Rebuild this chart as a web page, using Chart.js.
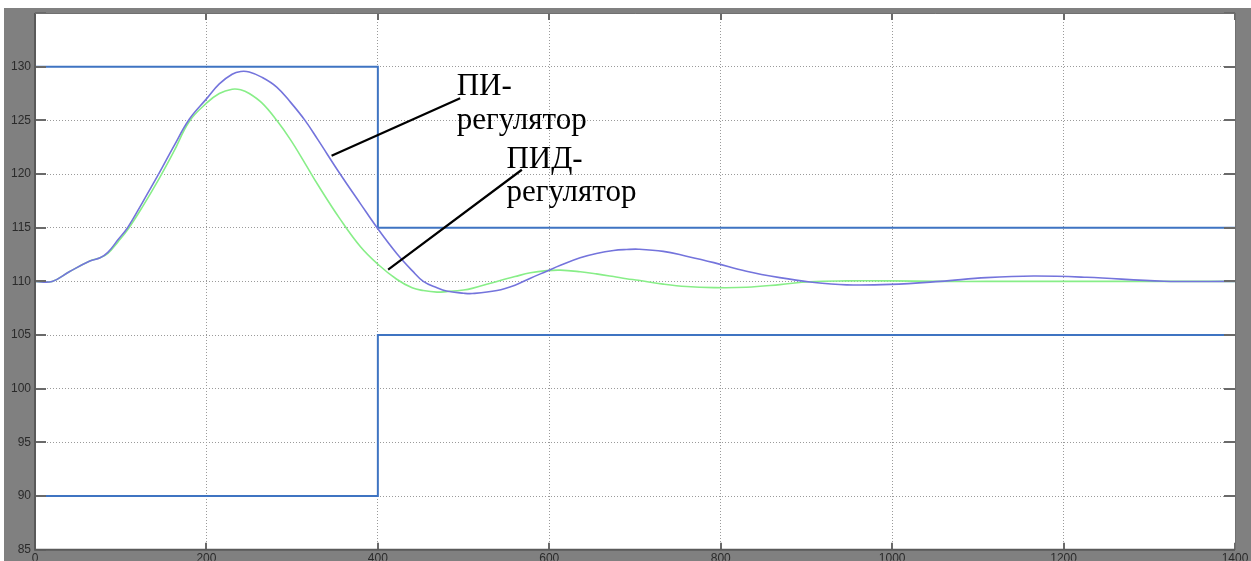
<!DOCTYPE html>
<html>
<head>
<meta charset="utf-8">
<script src="https://cdn.jsdelivr.net/npm/chart.js@4/dist/chart.umd.min.js"></script>
<style>
  html, body { margin: 0; padding: 0; background: #ffffff; }
  #wrap { width: 1251px; height: 561px; }
</style>
</head>
<body>
<div id="wrap"><canvas id="c" width="1251" height="561"></canvas></div>
<script>
// Time axis (s) shared by both controller responses
const timeSteps = [0, 20, 40, 64, 76, 85, 97, 108, 125, 145, 162, 180, 200, 215, 230, 240, 250, 265, 282, 298, 315, 330, 356, 380, 400, 422, 440, 453, 469, 480, 500, 510, 539, 560, 578, 597, 613, 636, 655, 675, 690, 704, 733, 760, 792, 830, 869, 904, 947, 998, 1056, 1110, 1165, 1227, 1317, 1400];

// PI controller response
const piValues = [110, 110, 110.9, 111.9, 112.2, 112.7, 113.9, 115.0, 117.3, 120.1, 122.6, 125.1, 127.0, 128.4, 129.3, 129.55, 129.5, 129.0, 128.1, 126.7, 125.0, 123.2, 120.0, 117.2, 114.9, 112.6, 111.0, 110.0, 109.4, 109.1, 108.9, 108.87, 109.15, 109.65, 110.3, 110.95, 111.5, 112.2, 112.6, 112.88, 112.97, 113.0, 112.8, 112.35, 111.75, 110.95, 110.35, 109.95, 109.68, 109.72, 110.0, 110.35, 110.5, 110.38, 110.02, 110.0];

// PID controller response
const pidValues = [110, 110, 110.9, 111.9, 112.2, 112.6, 113.7, 114.8, 116.9, 119.6, 122.1, 124.9, 126.6, 127.5, 127.9, 127.85, 127.5, 126.6, 125.0, 123.2, 121.0, 119.0, 115.8, 113.2, 111.6, 110.2, 109.4, 109.15, 109.0, 109.05, 109.2, 109.35, 110.0, 110.45, 110.8, 111.0, 111.05, 110.9, 110.7, 110.45, 110.25, 110.1, 109.75, 109.52, 109.42, 109.45, 109.7, 109.97, 110.05, 110.05, 110.0, 110.0, 110.0, 110.0, 110.0, 110.0];

// Tolerance band limits
const bandTime = [0, 400, 400, 1400];
const bandUpper = [130, 130, 115, 115];
const bandLower = [90, 90, 105, 105];

// Axis ticks
const xTicks = [0, 200, 400, 600, 800, 1000, 1200, 1400];
const yTicks = [85, 90, 95, 100, 105, 110, 115, 120, 125, 130, 135];

// Callout labels: text lines anchored in data coordinates, with leader lines
const calloutText = ['ПИ-', 'регулятор', 'ПИД-', 'регулятор'];
const calloutX = [492, 492, 550, 550];
const calloutY = [127.4, 124.2, 120.6, 117.45];
const leaderFromX = [346, 412];
const leaderFromY = [121.7, 111.1];
const leaderToX = [496, 568];
const leaderToY = [127.05, 120.4];

const pts = (xs, ys) => xs.map((x, i) => ({ x: x, y: ys[i] }));

const framePlugin = {
  id: 'frame',
  beforeDraw(chart) {
    const ctx = chart.ctx, a = chart.chartArea;
    ctx.save();
    ctx.fillStyle = '#ffffff';
    ctx.fillRect(0, 0, chart.width, chart.height);
    ctx.fillStyle = '#808080';
    ctx.fillRect(4, 8, chart.width - 4, chart.height - 8);
    ctx.fillStyle = '#ffffff';
    ctx.fillRect(a.left, a.top, a.right - a.left, a.bottom - a.top);
    ctx.restore();
  },
  afterDraw(chart) {
    const ctx = chart.ctx, a = chart.chartArea;
    const xs = chart.scales.x, ys = chart.scales.y;
    ctx.save();
    // inward tick marks
    ctx.strokeStyle = '#6a6a6a';
    ctx.lineWidth = 2;
    ctx.beginPath();
    yTicks.forEach(v => {
      const p = Math.round(ys.getPixelForValue(v));
      ctx.moveTo(a.left, p); ctx.lineTo(a.left + 11, p);
      ctx.moveTo(a.right, p); ctx.lineTo(a.right - 11, p);
    });
    xTicks.forEach(v => {
      const p = Math.round(xs.getPixelForValue(v));
      ctx.moveTo(p, a.bottom); ctx.lineTo(p, a.bottom - 7);
      ctx.moveTo(p, a.top); ctx.lineTo(p, a.top + 7);
    });
    ctx.stroke();
    // axes box
    ctx.strokeStyle = '#5a5a5a';
    ctx.lineWidth = 2;
    ctx.beginPath();
    ctx.moveTo(a.left, a.top); ctx.lineTo(a.left, a.bottom); ctx.lineTo(a.right, a.bottom);
    ctx.stroke();
    ctx.lineWidth = 1;
    ctx.strokeStyle = '#707070';
    ctx.beginPath();
    ctx.moveTo(a.left, a.top + 0.5); ctx.lineTo(a.right + 0.5, a.top + 0.5); ctx.lineTo(a.right + 0.5, a.bottom);
    ctx.stroke();
    // leader lines
    ctx.strokeStyle = '#000000';
    ctx.lineWidth = 2.2;
    ctx.beginPath();
    leaderFromX.forEach((x0, i) => {
      ctx.moveTo(xs.getPixelForValue(x0), ys.getPixelForValue(leaderFromY[i]));
      ctx.lineTo(xs.getPixelForValue(leaderToX[i]), ys.getPixelForValue(leaderToY[i]));
    });
    ctx.stroke();
    // callout text
    ctx.fillStyle = '#000000';
    ctx.font = '31px "Liberation Serif", "Times New Roman", serif';
    ctx.textAlign = 'left';
    ctx.textBaseline = 'alphabetic';
    calloutText.forEach((t, i) => {
      ctx.fillText(t, xs.getPixelForValue(calloutX[i]), ys.getPixelForValue(calloutY[i]));
    });
    ctx.restore();
  }
};

const lineDefaults = { pointRadius: 0, fill: false, borderWidth: 1.6, tension: 0.4 };
const gridStyle = { color: '#9a9a9a', lineWidth: 1, drawTicks: false };
const tickFont = { family: 'Liberation Sans, Arial, sans-serif', size: 12 };

new Chart(document.getElementById('c'), {
  type: 'line',
  data: {
    datasets: [
      Object.assign({ label: 'ПИ-регулятор', data: pts(timeSteps, piValues), borderColor: '#7474dc' }, lineDefaults),
      Object.assign({ label: 'ПИД-регулятор', data: pts(timeSteps, pidValues), borderColor: '#88ee88' }, lineDefaults),
      { label: 'upper', data: pts(bandTime, bandUpper), borderColor: '#3f74c2', borderWidth: 2, pointRadius: 0, tension: 0 },
      { label: 'lower', data: pts(bandTime, bandLower), borderColor: '#3f74c2', borderWidth: 2, pointRadius: 0, tension: 0 }
    ]
  },
  options: {
    responsive: false,
    animation: false,
    devicePixelRatio: 1,
    layout: { padding: { left: 0, top: 13, right: 16, bottom: 0 } },
    plugins: { legend: { display: false }, tooltip: { enabled: false } },
    scales: {
      x: {
        type: 'linear', min: 0, max: 1400,
        afterBuildTicks: s => { s.ticks = xTicks.map(v => ({ value: v })); },
        afterFit: s => { s.height = 11; },
        grid: gridStyle,
        border: { display: false, dash: [1, 2] },
        ticks: { padding: 2, color: '#2a2a2a', font: tickFont, maxRotation: 0, callback: v => String(v) }
      },
      y: {
        min: 85, max: 135,
        afterBuildTicks: s => { s.ticks = yTicks.map(v => ({ value: v })); },
        afterFit: s => { s.width = 35; },
        grid: gridStyle,
        border: { display: false, dash: [1, 2] },
        ticks: {
          padding: 4, color: '#2a2a2a', font: tickFont,
          callback: v => (v === 135 ? '' : String(v))
        }
      }
    }
  },
  plugins: [framePlugin]
});
</script>
</body>
</html>
